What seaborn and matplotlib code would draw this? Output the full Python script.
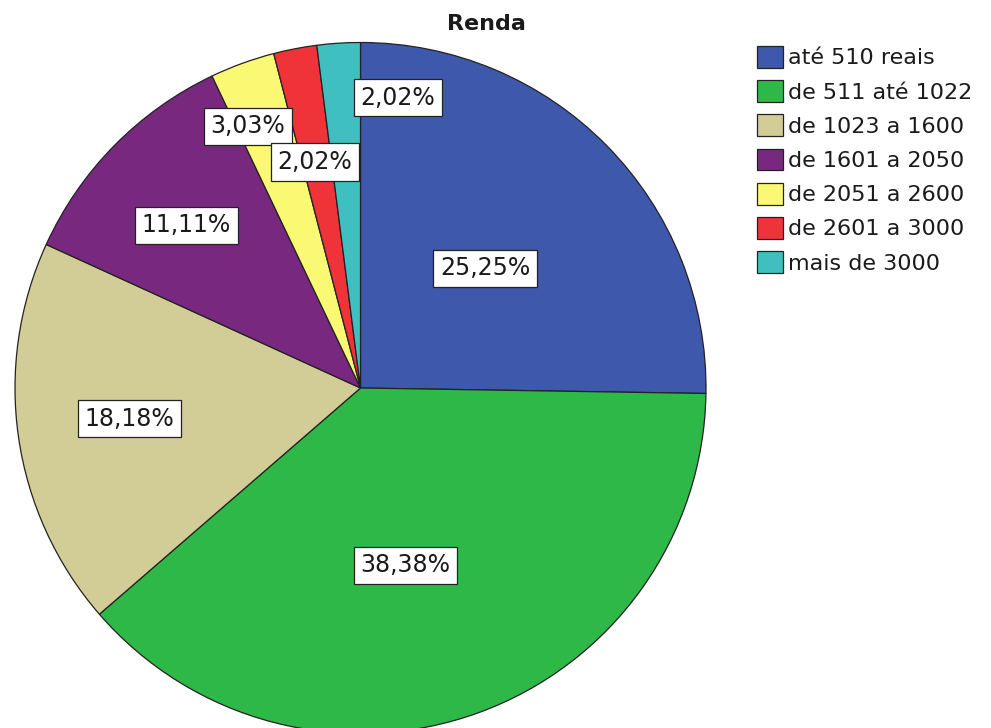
import numpy as np
import matplotlib
matplotlib.use("Agg")
import matplotlib.pyplot as plt
import seaborn as sns

sns.set_theme(style="white")
plt.rcParams["font.family"] = ["DejaVu Sans"]

# Income brackets and share of respondents (%)
categories = ["até 510 reais", "de 511 até 1022", "de 1023 a 1600",
              "de 1601 a 2050", "de 2051 a 2600", "de 2601 a 3000",
              "mais de 3000"]
shares = [25.25, 38.38, 18.18, 11.11, 3.03, 2.02, 2.02]
colors = ["#3E58AC", "#2EB848", "#D2CC96", "#79287F",
          "#FBF873", "#EF3338", "#3FBFC0"]

# label placement: fraction of radius and angular nudge (degrees)
label_radius = [0.50, 0.53, 0.675, 0.69, 0.825, 0.667, 0.847]
label_nudge = [-0.7, -5.7, -0.6, 1.5, 3.3, 0.5, -11.0]

W, H = 991, 728
fig = plt.figure(figsize=(W / 100, H / 100), dpi=100)
fig.patch.set_facecolor("white")

cx, cy, r = 360.5, 388, 345.5
ax = fig.add_axes([(cx - r) / W, (H - cy - r) / H, 2 * r / W, 2 * r / H])

wedges, _ = ax.pie(shares, colors=colors, startangle=90, counterclock=False,
                   wedgeprops=dict(edgecolor="#222222", linewidth=0.9))
ax.set_xlim(-1, 1)
ax.set_ylim(-1, 1)
ax.set_aspect("equal")
ax.axis("off")

for w, val, rf, nd in zip(wedges, shares, label_radius, label_nudge):
    ang = np.deg2rad((w.theta1 + w.theta2) / 2 + nd)
    ax.text(rf * np.cos(ang), rf * np.sin(ang), f"{val:.2f}%".replace(".", ","),
            ha="center", va="center", fontsize=17, color="#1a1a1a",
            bbox=dict(boxstyle="square,pad=0.28", facecolor="white",
                      edgecolor="#222222", linewidth=0.9))

fig.text(486 / W, 1 - 24 / H, "Renda", ha="center", va="center",
         fontsize=16, fontweight="bold", color="#1a1a1a")

leg = fig.legend(wedges, categories, loc="upper left",
                 bbox_to_anchor=(757 / W, 1 - 46 / H),
                 frameon=False, fontsize=16, handlelength=1.17,
                 handleheight=1.13, handletextpad=0.22, labelspacing=0.53,
                 borderaxespad=0, borderpad=0)
for t in leg.get_texts():
    t.set_color("#1a1a1a")

fig.savefig("out.png", dpi=100, facecolor="white")
